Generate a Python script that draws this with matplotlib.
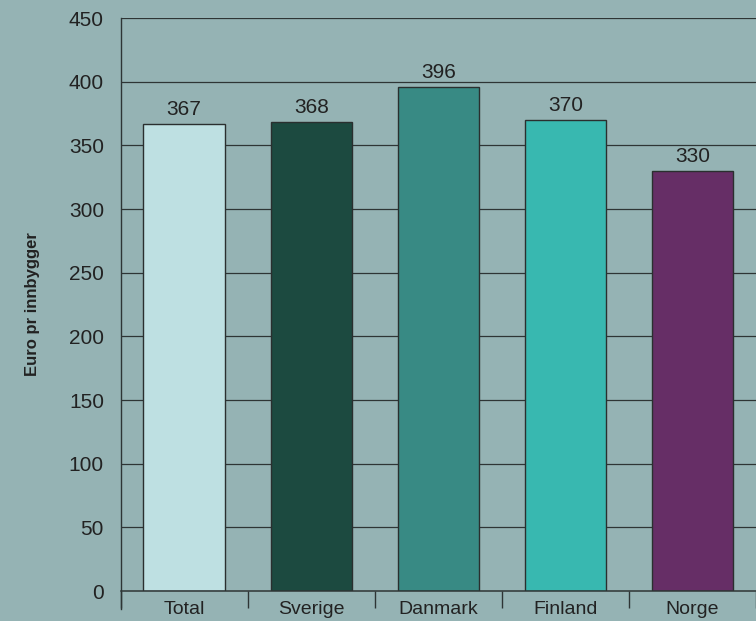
import numpy as np
import matplotlib.pyplot as plt

# data
categories = ['Total', 'Sverige', 'Danmark', 'Finland', 'Norge']
values = [367, 368, 396, 370, 330]
bar_colors = ['#bee0e2', '#1c4a40', '#388a84', '#38b8b0', '#662e66']
yticks = [0, 50, 100, 150, 200, 250, 300, 350, 400, 450]

bg = '#95b3b4'
plt.rcParams['font.family'] = ['Liberation Sans', 'DejaVu Sans']

fig = plt.figure(figsize=(7.56, 6.21), dpi=100, facecolor=bg)
ax = fig.add_axes([0.1595, 0.0483, 0.8405, 0.9227])
ax.set_facecolor(bg)

x = np.arange(len(categories))
# gridlines under the bars
for yv in yticks[1:]:
    ax.axhline(yv, color='#2e3535', lw=0.9, zorder=1)

bars = ax.bar(x, values, width=0.64, color=bar_colors, edgecolor='#2a2f2f',
              linewidth=1.0, zorder=2)
for xi, v in zip(x, values):
    ax.text(xi, v + 4, str(v), ha='center', va='bottom', fontsize=15,
            color='#222222', zorder=3)

ax.set_xlim(-0.5, len(categories) - 0.5)
ax.set_ylim(0, 450)
ax.set_yticks(yticks)
ax.tick_params(axis='y', length=0, pad=12, labelsize=15, colors='#222222')

# category boundaries as major ticks, names as minor tick labels
ax.set_xticks(np.arange(len(categories) + 1) - 0.5)
ax.set_xticklabels([])
ax.set_xticks(x, minor=True)
ax.set_xticklabels(categories, minor=True)
ax.tick_params(axis='x', which='major', length=12, width=1.0, color='#2e3535')
ax.tick_params(axis='x', which='minor', length=0, pad=7, labelsize=14,
               colors='#222222')

for s in ['top', 'right']:
    ax.spines[s].set_visible(False)
ax.spines['left'].set_color('#2e3535')
ax.spines['left'].set_linewidth(1.0)
ax.spines['left'].set_bounds(-14, 450)
ax.spines['bottom'].set_color('#2e3535')
ax.spines['bottom'].set_linewidth(1.1)
ax.spines['bottom'].set_zorder(4)

fig.text(0.043, 0.51, 'Euro pr innbygger', rotation=90, ha='center',
         va='center', fontsize=12, fontweight='bold', color='#222222')

fig.savefig('out.png', dpi=100, facecolor=bg)
